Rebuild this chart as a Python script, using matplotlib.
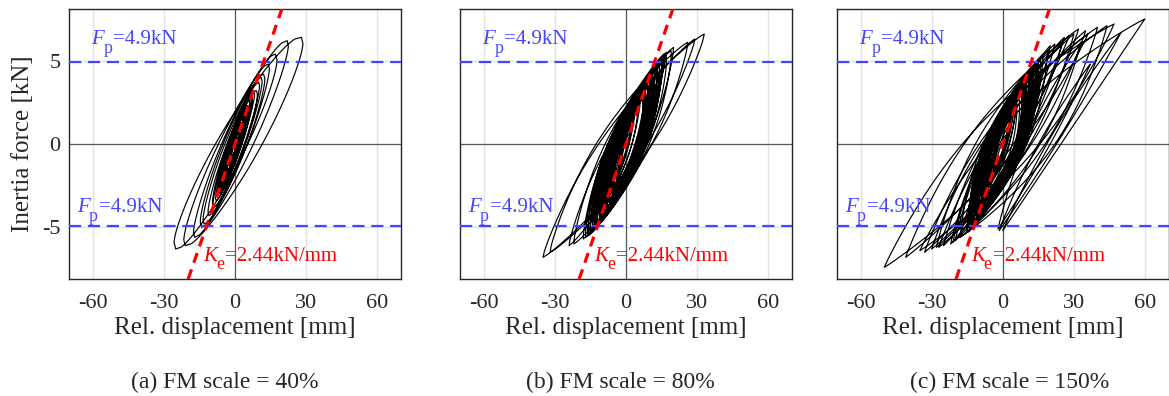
import numpy as np
import matplotlib
matplotlib.use("Agg")
import matplotlib.pyplot as plt
from matplotlib.transforms import offset_copy

# ---------------- data ----------------
x_ticks = [-60, -30, 0, 30, 60]
y_ticks = [-5, 0, 5]
x_limits = (-70, 70)
y_limits = (-8.1, 8.1)
Fp = 4.9                 # kN, plotted as +/- horizontal lines
Ke_visual_slope = 0.41   # kN/mm, slope of the red reference line as drawn
captions = ["(a) FM scale = 40%", "(b) FM scale = 80%", "(c) FM scale = 150%"]
caption_centers_px = [225, 620, 1010]

# reversal points of the hysteresis trace (displacement mm, force kN)
# and loop opening (kN) of the half-cycle that ends at each reversal point
disp_a = [0, 2, -2, 3, -4, 5, -6, 9, -9, 12,
          -14, 17, -25, 28, -21, 22, -17, 14, -13, 11,
          -11, 10, -9, 8, -8, 7, -7, 6, -6, 5,
          -5, 4, -4, 5, -6, 7, -6, 5, -5, 4,
          -4.5, 3.5, -4, 3, -3.5, 4, -5, 6, -5.5, 4.5,
          -4, 3, -3, 2.5, -2.5, 3, -3.5, 2.5, -2, 2,
          -3, 4, -5.5, 6.5, -7, 5, -4, 3.5, -6, 5.5,
          -2.5, 1.5, -1.5, 1]
force_a = [0, 0.8, -0.9, 1.3, -1.7, 2.0, -2.4, 3.2, -3.8, 4.2,
           -5.0, 5.4, -6.3, 6.4, -6.1, 6.2, -5.6, 4.8, -4.8, 4.0,
           -4.3, 3.7, -3.8, 3.2, -3.4, 2.9, -3.0, 2.6, -2.7, 2.3,
           -2.4, 1.9, -2.0, 2.2, -2.7, 2.9, -2.8, 2.3, -2.4, 1.9,
           -2.2, 1.7, -2.0, 1.5, -1.8, 1.9, -2.4, 2.6, -2.6, 2.1,
           -2.0, 1.5, -1.6, 1.2, -1.3, 1.5, -1.8, 1.2, -1.1, 1.0,
           -1.6, 1.8, -2.5, 2.7, -3.0, 2.3, -2.0, 1.6, -2.6, 2.3,
           -1.3, 0.7, -0.8, 0.4]
open_a = [0, 0.3, 0.4, 0.5, 0.7, 0.8, 0.9, 1.2, 1.4, 1.6,
          1.8, 2.0, 2.2, 2.3, 2.2, 2.1, 1.9, 1.8, 1.7, 1.6,
          1.5, 1.4, 1.3, 1.2, 1.1, 1.0, 0.95, 0.9, 0.85, 0.8,
          1.0, 0.95, 0.95, 1.0, 1.05, 1.1, 1.1, 1.05, 1.0, 0.95,
          0.9, 0.85, 0.85, 0.8, 0.8, 0.85, 0.95, 1.05, 1.05, 0.9,
          0.85, 0.75, 0.75, 0.7, 0.7, 0.7, 0.75, 0.65, 0.6, 0.6,
          0.8, 0.9, 1.0, 1.1, 1.15, 1.05, 0.9, 0.8, 1.0, 1.0,
          0.4, 0.3, 0.3, 0.2]

disp_b = [0, 2, -3, 5, -6, 8, -10, 12, -15, 17,
          -24, 29, -35, 33, -32, 26, -22, 20, -18, 16,
          -16, 15, -15, 14, -14, 17, -17, 19, -16, 13,
          -13, 14, -15, 12, -14, 11, -11, 14, -13, 10,
          -12, 13, -10, 12, -13, 11, -12, 15, -11, 9,
          -10, 10, -9, 13, -12, 12, -10, 11, -8, 12,
          -11, 9, -8, 10, -9, 8, -7, 8, -7, 7,
          -12, 13, -13, 11, -11, 15, -9, 12, -14, 14,
          -10, 10, -12, 9, -9, 13, -8, 11, -11, 8,
          -7, 10, -10, 7, -6, 9, -8, 8, -5, 6,
          -6, 4, -5, 3.5, -4, 3, -3, 2, -2, 1]
force_b = [0, 1.0, -1.4, 2.2, -2.8, 3.4, -4.0, 4.6, -5.2, 5.5,
           -6.1, 6.3, -6.8, 6.6, -6.5, 6.1, -6.0, 5.8, -5.7, 5.4,
           -5.5, 5.0, -5.4, 4.8, -5.2, 5.2, -5.6, 5.6, -5.5, 4.6,
           -5.0, 4.7, -5.3, 4.4, -5.2, 4.2, -4.7, 4.7, -5.0, 4.0,
           -4.9, 4.5, -4.4, 4.4, -5.0, 4.2, -4.8, 4.8, -4.6, 3.7,
           -4.4, 3.9, -4.1, 4.5, -4.9, 4.4, -4.4, 4.1, -3.8, 4.3,
           -4.6, 3.5, -3.8, 3.8, -4.0, 3.2, -3.5, 3.1, -3.4, 2.7,
           -4.9, 4.6, -5.0, 4.2, -4.7, 4.9, -4.1, 4.4, -5.2, 4.7,
           -4.4, 3.9, -4.8, 3.6, -4.1, 4.5, -3.8, 4.1, -4.6, 3.3,
           -3.4, 3.8, -4.3, 2.8, -3.0, 3.5, -3.8, 3.2, -2.7, 2.6,
           -2.9, 2.2, -2.5, 1.9, -2.1, 1.6, -1.7, 1.2, -1.2, 0.6]
open_b = [0, 0.4, 0.6, 0.9, 1.1, 1.4, 1.7, 2.0, 2.2, 2.3,
          2.2, 2.2, 2.2, 2.2, 2.2, 2.3, 2.3, 2.3, 2.3, 2.3,
          2.6, 2.6, 2.6, 2.6, 2.6, 2.7, 2.7, 2.7, 2.7, 2.6,
          2.6, 2.6, 2.7, 2.5, 2.6, 2.4, 2.4, 2.6, 2.6, 2.3,
          2.5, 2.5, 2.4, 2.4, 2.5, 2.4, 2.5, 2.6, 2.5, 2.2,
          2.3, 2.2, 2.1, 2.3, 2.4, 2.3, 2.2, 2.1, 2.0, 2.1,
          2.1, 1.9, 1.8, 1.8, 1.8, 1.7, 1.6, 1.5, 1.5, 1.4,
          2.6, 2.6, 2.6, 2.5, 2.5, 2.6, 2.4, 2.5, 2.6, 2.6,
          2.5, 2.3, 2.5, 2.2, 2.3, 2.5, 2.2, 2.3, 2.4, 2.1,
          2.0, 2.1, 2.2, 1.8, 1.8, 1.9, 2.0, 1.8, 1.6, 1.6,
          1.0, 0.9, 0.8, 0.7, 0.6, 0.5, 0.5, 0.4, 0.4, 0.3]

disp_c = [0, 3, -4, 6, -8, 10, -12, 15, -21, 25,
          -30, 36, -50, 47, -35, 60, 0, 50, -1.5, 37,
          -2, 33, -15, 20, -22, 28, -41, 32, -28, 22,
          -25, 30, -20, 26, -33, 40, -18, 35, -27, 44,
          -18, 19, -15, 17, -14, 15, -13, 14, -14, 13,
          -12, 12, -11, 14, -10, 11, -10, 10, -9, 9,
          -13, 16, -15, 13, -12, 15, -11, 12, -14, 14,
          -10, 11, -8, 13, -13, 10, -9, 12, -11, 11,
          -12, 13, -14, 11, -11, 15, -9, 12, -15, 14,
          -10, 10, -13, 9, -9, 14, -8, 11, -12, 8,
          -7, 11, -11, 7, -6, 9, -9, 8, -5, 6,
          -8, 6, -7, 5, -6, 4, -5, 3, -4, 2,
          -3, 1]
force_c = [0, 1.5, -2.0, 2.8, -3.5, 4.0, -4.8, 5.0, -5.9, 6.0,
           -6.3, 6.6, -7.4, 7.2, -6.4, 7.5, -5.2, 6.7, -5.2, 4.8,
           -5.1, 6.1, -5.3, 5.9, -6.0, 6.5, -6.8, 6.9, -6.2, 6.0,
           -6.1, 6.6, -5.8, 6.4, -6.5, 7.0, -5.6, 6.8, -6.2, 7.1,
           -5.6, 5.6, -5.3, 5.4, -5.0, 4.6, -4.7, 4.4, -5.0, 4.3,
           -4.6, 4.2, -4.2, 4.6, -4.0, 3.8, -4.0, 3.5, -3.7, 3.1,
           -4.9, 5.0, -5.3, 4.5, -4.8, 4.9, -4.6, 4.3, -5.1, 4.7,
           -4.3, 4.0, -3.8, 4.4, -4.9, 3.7, -4.0, 4.2, -4.5, 3.9,
           -4.7, 4.5, -5.2, 4.1, -4.6, 4.8, -4.0, 4.3, -5.3, 4.6,
           -4.3, 3.7, -5.0, 3.4, -4.0, 4.6, -3.8, 4.0, -4.8, 3.1,
           -3.3, 4.0, -4.6, 2.7, -2.9, 3.4, -4.0, 3.0, -2.6, 2.4,
           -3.3, 2.8, -2.9, 2.4, -2.5, 2.0, -2.1, 1.6, -1.7, 1.0,
           -1.4, 0.5]
open_c = [0, 0.5, 0.8, 1.1, 1.4, 1.8, 2.1, 2.3, 2.2, 2.2,
          2.2, 2.2, 2.0, 2.5, 2.0, 2.3, 0.0, 0.8, 0.4, 0.9,
          0.5, 1.5, 2.0, 2.2, 2.0, 2.2, 2.0, 2.2, 2.0, 2.2,
          2.0, 2.2, 2.0, 2.2, 2.0, 2.3, 2.2, 2.3, 2.0, 2.3,
          2.6, 2.7, 2.8, 2.8, 2.8, 2.8, 2.8, 2.7, 2.8, 2.7,
          2.7, 2.6, 2.6, 2.7, 2.5, 2.4, 2.4, 2.3, 2.3, 2.1,
          2.7, 2.8, 2.9, 2.7, 2.7, 2.8, 2.7, 2.6, 2.8, 2.7,
          2.6, 2.5, 2.3, 2.5, 2.7, 2.4, 2.3, 2.4, 2.5, 2.3,
          2.8, 2.7, 2.8, 2.6, 2.7, 2.8, 2.6, 2.7, 2.9, 2.8,
          2.7, 2.5, 2.8, 2.4, 2.5, 2.7, 2.4, 2.5, 2.7, 2.3,
          2.2, 2.3, 2.5, 2.0, 1.9, 2.1, 2.2, 2.0, 1.8, 1.7,
          1.7, 1.4, 1.3, 1.1, 1.0, 0.9, 0.8, 0.7, 0.6, 0.5,
          0.4, 0.3]

panels = [(disp_a, force_a, open_a), (disp_b, force_b, open_b), (disp_c, force_c, open_c)]
loop_roundness = [0.5, 0.8, 0.9]   # exponent of the loop bulge (0.5 ~ ellipse, 1 ~ lens)

# ---------------- styling ----------------
plt.rcParams["font.family"] = ["Liberation Serif", "DejaVu Serif"]

W, H = 1169, 396
fig = plt.figure(figsize=(W / 100, H / 100), dpi=100)
renderer = fig.canvas.get_renderer()

lefts_px = [69, 460, 837]
ax_w_px = 332
top_px, bot_px = 9, 279

blue = (0.27, 0.27, 1.0)
red = (1.0, 0.0, 0.0)
ink = "#262626"
MM_PER_KN = 7.0   # visual aspect used to shape each loop (px per kN / px per mm)


def trace(disp, force, opening, q, n=50):
    xs, ys = [disp[0]], [force[0]]
    s = np.linspace(0, 1, n)[1:]
    bulge = np.sin(np.pi * s) ** q
    for i in range(1, min(len(disp), len(force), len(opening))):
        P = np.array([disp[i - 1], force[i - 1] * MM_PER_KN])
        Q = np.array([disp[i], force[i] * MM_PER_KN])
        h = Q - P
        L = np.hypot(*h)
        if L == 0:
            continue
        e = h / L
        perp = np.array([-e[1], e[0]])
        b = opening[i] * MM_PER_KN * abs(e[0])
        pts = P[None, :] + s[:, None] * h[None, :] + (b * bulge)[:, None] * perp[None, :]
        xs.extend(pts[:, 0])
        ys.extend(pts[:, 1] / MM_PER_KN)
    return np.array(xs), np.array(ys)


def sub_label(ax, x, y, main, sub, rest, color, fs):
    kw = dict(color=color, va="baseline", ha="left", zorder=6)
    t1 = ax.text(x, y, main, fontsize=fs, style="italic", **kw)
    w1 = t1.get_window_extent(renderer).width
    tr2 = offset_copy(ax.transData, fig=fig, x=w1 - 1, y=-0.42 * fs * 100 / 72, units="dots")
    t2 = ax.text(x, y, sub, fontsize=0.85 * fs, transform=tr2, **kw)
    w2 = t2.get_window_extent(renderer).width
    tr3 = offset_copy(ax.transData, fig=fig, x=w1 + w2, y=0, units="dots")
    ax.text(x, y, rest, fontsize=fs, transform=tr3, **kw)


for k, (lp, (dd, ff, oo)) in enumerate(zip(lefts_px, panels)):
    wpx = ax_w_px if k < 2 else 1168.5 - lp
    ax = fig.add_axes([lp / W, 1 - bot_px / H, wpx / W, (bot_px - top_px) / H])
    ax.set_xlim(*x_limits)
    ax.set_ylim(*y_limits)
    ax.set_xticks(x_ticks)
    ax.set_yticks(y_ticks)
    ax.set_xticklabels([str(t) for t in x_ticks])
    ax.set_yticklabels([str(t) for t in y_ticks] if k == 0 else [])
    ax.tick_params(length=0, labelsize=16, colors=ink)
    ax.tick_params(axis="x", pad=11)
    ax.tick_params(axis="y", pad=6)
    ax.grid(True, color="#e3e3e3", lw=1.0)
    ax.set_axisbelow(True)
    for s in ax.spines.values():
        s.set_color(ink)
        s.set_linewidth(1.0)
    ax.axvline(0, color="#5a5a5a", lw=0.9, zorder=1)
    ax.axhline(0, color="#5a5a5a", lw=0.9, zorder=1)

    x, y = trace(dd, ff, oo, loop_roundness[k])
    ax.plot(x, y, color="black", lw=0.85, zorder=3)

    for sgn in (1, -1):
        ax.axhline(sgn * Fp, color=blue, lw=1.6, ls=(0, (5.5, 3)), zorder=4)
    ax.axline((0, 0), slope=Ke_visual_slope, color=red, lw=2.3, ls=(0, (3.2, 2.2)), zorder=5)

    sub_label(ax, -60.5, 6.0, "F", "p", "=4.9kN", blue, 15)
    sub_label(ax, -66.5, -4.1, "F", "p", "=4.9kN", blue, 15)
    sub_label(ax, -13.5, -7.0, "K", "e", "=2.44kN/mm", red, 15)

    ax.set_xlabel("Rel. displacement [mm]", fontsize=18, color=ink, labelpad=3)
    if k == 0:
        ax.set_ylabel("Inertia force [kN]", fontsize=18, color=ink, labelpad=6)

    fig.text(caption_centers_px[k] / W, 1 - 382 / H, captions[k], ha="center", va="center",
             fontsize=17, color=ink)

fig.savefig("out.png", dpi=100)
